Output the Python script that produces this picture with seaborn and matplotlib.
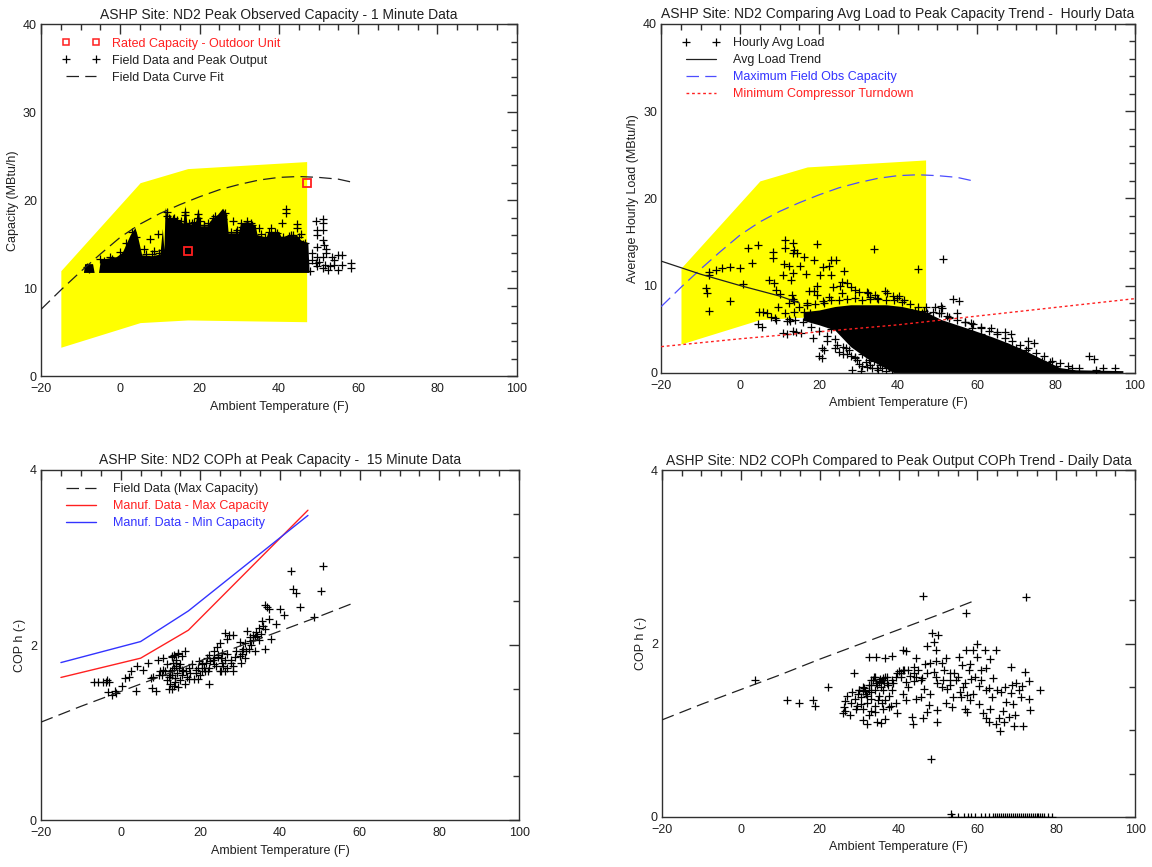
import matplotlib
matplotlib.use("Agg")
import matplotlib.pyplot as plt
from matplotlib.lines import Line2D
from matplotlib.ticker import MultipleLocator
import seaborn as sns

# ---- shared curves ----
# manufacturer capacity envelope (yellow band)
band_x = [-15, 5, 17, 47]
band_top = [12.0, 22.0, 23.6, 24.4]
band_bot = [3.3, 6.1, 6.4, 6.2]

# field data capacity curve fit
fit_x = [-20, -15, -10, -5, 0, 5, 10, 15, 20, 25, 30, 35, 40, 45, 50, 55, 59]
fit_y = [7.6, 9.8, 11.9, 13.9, 15.8, 17.3, 18.5, 19.5, 20.4, 21.2, 21.8, 22.3, 22.6, 22.7, 22.6, 22.4, 22.0]

# ---- panel 1: peak observed capacity ----
rated_x = [17, 47]
rated_y = [14.2, 22.0]

# dense 1-minute cloud, read as its outline
p1_mass_x = [-9.3, -9.0, -7.0, -6.6, -5.5, -5.0, -1.0, 0.5, 1.5, 2.5, 3.7, 4.5, 5.4, 8.0, 10.0, 10.6,
             11.0, 11.3, 11.8, 13.0, 15.0, 15.8, 16.3, 16.8, 18.0, 19.0, 19.6, 20.2, 22.0, 23.0, 24.5,
             25.8, 26.8, 27.2, 29.8, 30.3, 32.0, 34.0, 34.5, 36.8, 37.2, 40.0, 40.5, 44.5, 45.5, 47.3, 47.6]
p1_mass_top = [11.8, 12.8, 12.8, 11.8, 11.8, 13.3, 13.6, 14.1, 15.1, 16.1, 16.9, 15.6, 13.8, 13.7, 13.9,
               16.8, 14.4, 19.2, 18.0, 17.9, 17.7, 17.4, 19.4, 17.4, 17.3, 17.6, 19.1, 17.1, 17.1, 17.9,
               18.4, 19.1, 18.4, 16.3, 16.3, 17.4, 17.6, 17.2, 16.1, 15.8, 16.4, 16.4, 15.9, 16.0, 15.5,
               15.2, 11.8]
p1_mass_bottom = 11.8

p1_pts_x = [11.7, 11.7, 16.3, 16.3, 19.6, 19.6, 25.9, 25.9, 41.8, 41.8, 40.9, 44.6, 44.6, 9.5, 7.5,
            2.9, 36.5, 33.3, 30.8, 22.5, 14.0, 6.0, 4.0, -8.5, -8.0, -4.0, -2.0, 38.5, 43.5, 46.0,
            49.3, 49.5, 51.1, 51.1, 51.1, 51.1, 51.3, 49.5, 49.7, 52.0, 52.0, 48.3, 49.5, 51.1, 53.4,
            54.8, 55.8, 54.0, 53.9, 53.0, 51.6, 51.1, 49.7, 47.9, 55.8, 58.1, 58.1, 54.8, 52.5, 49.3,
            47.4, 48.3, 50.2, 20.0, 21.2, 28.5, 29.5, 35.0, 38.0, 39.5, 42.5, 45.5, 13.5, 10.5, 8.5,
            12.5, 18.0, 23.5, 31.5,
            12.2, 13.2, 14.2, 15.2, 17.4, 18.5, 21.0, 22.0, 24.0, 26.5, 28.0, 29.2, 30.5, 32.0, 33.0,
            35.5, 37.5, 39.0, 41.0, 43.0, 45.0, 46.5, 1.5, 0.0, -2.5, 6.5, 8.0, 9.8, -5.0]
p1_pts_y = [18.7, 18.2, 18.7, 18.3, 18.4, 18.0, 18.3, 17.9, 19.0, 18.6, 17.4, 17.3, 16.8, 16.2, 15.6,
            16.4, 15.8, 17.2, 17.0, 17.2, 16.5, 14.5, 15.8, 12.4, 12.2, 13.1, 13.3, 15.2, 16.1, 15.0,
            17.6, 16.6, 17.9, 17.4, 16.6, 15.5, 14.9, 16.1, 14.7, 14.5, 14.0, 14.0, 13.6, 13.6, 13.6,
            13.8, 13.8, 13.2, 12.7, 12.5, 12.7, 12.3, 12.5, 12.0, 12.7, 12.9, 12.3, 12.1, 12.1, 12.9,
            12.9, 13.2, 13.0, 17.6, 17.2, 17.6, 16.6, 16.8, 16.9, 16.3, 15.9, 16.2, 18.0, 14.3, 14.2,
            17.9, 17.4, 18.0, 16.5,
            18.0, 17.9, 17.8, 17.6, 17.4, 17.5, 17.2, 17.4, 18.2, 18.5, 16.4, 16.4, 17.4, 17.6, 17.4,
            16.2, 16.4, 16.4, 15.8, 16.0, 15.8, 15.2, 15.2, 14.1, 13.6, 13.9, 13.9, 14.0, 13.3]

# ---- panel 2: hourly average load ----
trend_x = [-20, -10, 0, 10, 15]
trend_y = [12.8, 11.3, 10.0, 8.8, 8.0]

turndown_x = [-20, 0, 20, 40, 60, 80, 100]
turndown_y = [3.0, 3.9, 4.7, 5.5, 6.5, 7.5, 8.5]

# dense hourly cloud, read as its outline
p2_mass_x = [16, 20, 24, 28, 32, 37, 41, 47, 51, 55, 59, 64, 68, 72, 76, 81, 85, 97]
p2_mass_top = [7.0, 7.2, 7.6, 7.8, 7.8, 7.8, 7.6, 7.0, 6.1, 5.5, 4.9, 4.1, 3.4, 2.6, 1.7, 0.6, 0.35, 0.25]
p2_mass_bot = [6.0, 5.5, 4.9, 3.0, 1.7, 0.5, -0.5, -0.5, -0.5, -0.5, -0.5, -0.5, -0.5, -0.5, -0.5,
               -0.5, -0.5, -0.5]

p2_pts_x = [11.4, 11.4, 13.3, 13.7, 13.3, 14.4, 19.6, 33.9, 45.1, 51.4, 1.9, 4.4, 3.0, 0.0, -2.7, -4.6,
            -6.0, -7.8, -7.8, -8.6, -8.3, -7.9, -2.5, 0.7, 4.7, 4.4, 7.2, 8.2, 8.2, 9.1, 7.7, 10.9,
            11.2, 12.3, 12.8, 13.3, 15.1, 16.1, 16.8, 18.8, 17.5, 18.8, 20.2, 20.9, 22.5, 23.0, 24.4,
            23.0, 26.3, 25.8, 23.5, 28.1, 25.8, 30.0, 32.3, 36.7, 38.8, 40.2, 32.8, 34.8, 13.3, 12.3,
            9.6, 11.4, 12.3, 13.3, 10.9, 14.2, 9.1, 5.8, 20.7, 20.0, 24.0, 26.7, 28.1, 29.1, 30.9,
            31.9, 34.6, 28.3, 63.5, 67.2, 73.0, 88.4, 54.0, 49.5, 50.9, 46.7, 44.4,
            8.5, 10.2, 13.2, 13.6, 6.8, 5.6, 8.9, 11.9, 15.3, 11.9, 21.2, 20.8, 25.0, 27.5, 29.7,
            32.6, 36.0, 32.2, 55.5, 51.2, 55.0, 52.5, 50.4, 58.8, 61.0, 65.2, 68.6, 74.4, 72.4, 76.6,
            89.7, 90.2, 67.7, 61.0, 58.4, 25.4, 27.1, 29.2, 32.2, 34.3, 37.3, 39.8, 41.5, 43.6, 46.2,
            47.4, 19.5, 21.2, 17.0, 19.5, 22.5, 16.1, 17.8, 13.6, 12.7, 18.5, 22.0, 24.5, 26.0, 35.5,
            38.5, 30.5, 33.5, 62.5, 70.0, 78.5, 80.0, 84.0, 57.0, 53.0,
            15.0, 17.0, 19.0, 21.0, 23.0, 25.0, 27.0, 29.0, 31.0, 33.0, 35.0, 37.0, 39.0, 41.0, 43.0,
            45.0, 47.0, 49.0, 51.0, 53.0, 55.0, 57.0, 59.0, 61.0, 63.0, 65.0, 67.0, 69.0, 71.0, 73.0,
            75.0, 77.0, 79.0, 81.0, 83.0, 86.0, 92.0, 95.0,
            18.0, 20.0, 22.0, 24.0, 26.0, 27.0, 29.0, 30.0, 31.0, 33.0, 34.0, 35.0, 37.0, 38.0, 16.0,
            14.0, 23.0]
p2_pts_y = [15.2, 14.3, 14.9, 14.1, 13.7, 13.7, 14.8, 14.2, 11.9, 13.1, 14.3, 14.7, 12.6, 12.0, 12.1,
            12.0, 11.8, 11.6, 11.2, 9.7, 9.1, 7.1, 8.2, 10.2, 7.0, 5.6, 10.6, 13.9, 13.2, 9.5, 6.4,
            11.2, 12.5, 12.2, 10.6, 11.4, 12.2, 13.3, 11.3, 12.9, 9.4, 9.4, 11.2, 12.1, 12.2, 12.9,
            12.9, 11.2, 11.7, 10.4, 9.8, 9.8, 9.1, 9.3, 9.1, 9.4, 8.8, 8.8, 8.5, 8.6, 8.5, 8.0, 7.5,
            6.9, 6.2, 4.8, 4.6, 4.7, 6.1, 7.0, 2.9, 1.9, 2.8, 2.8, 1.9, 1.7, 0.8, 1.2, 0.6, 0.3, 5.1,
            4.7, 3.7, 1.9, 8.5, 7.6, 7.7, 7.1, 7.1,
            10.3, 9.0, 8.9, 8.2, 6.8, 5.3, 6.3, 5.9, 4.6, 4.4, 2.6, 1.7, 2.4, 2.6, 1.5,
            1.5, 0.5, 0.7, 8.2, 7.4, 6.8, 6.5, 6.8, 5.1, 4.4, 4.7, 4.4, 3.4, 2.6, 1.3,
            1.6, 0.3, 3.0, 5.3, 5.7, 9.9, 10.3, 9.5, 9.3, 8.9, 9.1, 8.6, 8.4, 6.8, 6.8,
            6.8, 8.9, 8.0, 8.0, 9.9, 8.7, 7.0, 6.8, 7.0, 5.9, 4.0, 3.6, 3.2, 2.2, 0.9,
            0.3, 0.2, 0.6, 3.8, 2.9, 1.2, 0.8, 0.6, 5.8, 6.4,
            7.6, 7.8, 7.9, 8.2, 8.3, 8.4, 8.5, 8.6, 8.4, 8.7, 8.5, 8.3, 8.4, 8.1, 7.9,
            7.6, 7.6, 7.0, 6.8, 6.3, 6.1, 5.8, 5.6, 5.1, 4.8, 4.5, 4.0, 3.7, 3.2, 2.9,
            2.3, 1.9, 1.4, 1.1, 0.8, 0.6, 0.5, 0.5,
            5.2, 4.8, 4.2, 3.9, 3.0, 2.2, 1.8, 1.0, 2.2, 0.9, 1.4, 0.3, 0.2, 0.8, 5.8,
            6.0, 5.0]

# ---- panel 3: COPh at peak capacity ----
cop_fit_x = [-20, -10, 0, 10, 20, 30, 40, 50, 59]
cop_fit_y = [1.12, 1.30, 1.47, 1.64, 1.82, 1.99, 2.16, 2.33, 2.49]

manuf_x = [-15, 5, 17, 47]
manuf_max = [1.63, 1.85, 2.17, 3.54]
manuf_min = [1.80, 2.04, 2.39, 3.48]

p3_x = [42.7, 50.9, 43.2, 44.1, 50.3, 45.0, 48.6, 36.3, 37.2, 40.0, 40.9, 39.0, 37.2, 37.7, 36.3, 35.4,
        34.7, 34.0, 33.6, 33.1, 32.7, 31.7, 32.2, 30.8, 30.4, 29.9, 31.1, 30.2, 28.1, 26.3, 26.7, 24.9,
        23.5, 22.1, 23.1, 24.4, 25.3, 26.3, 27.6, 28.1, 26.7, 25.8, 24.9, 23.5, 22.1, 21.2, 21.7, 19.7,
        19.4, 19.0, 19.4, 20.8, 22.1, 18.0, 17.1, 16.7, 15.7, 15.3, 14.4, 13.5, 13.9, 13.3, 12.5, 12.1,
        12.5, 13.5, 14.4, 13.0, 12.1, 11.2, 10.3, 9.8, 10.7, 9.3, 8.9, 7.8, 8.0, 6.9, 4.1, 3.9, 2.0,
        1.1, 2.5, 0.4, -1.2, -2.1, -3.2, -3.7, -3.0, -4.5, -5.7, -6.8, 14.8, 15.3, 16.2, 17.1, 16.2,
        15.0, 18.5, 20.3, 23.3, 24.2, 25.5, 27.2, 29.0, 29.9, 31.4, 33.6, 34.8, 35.2, 36.1, 32.4, 21.9,
        20.3, 26.3, 28.1, 25.3, 13.0, 14.0, 12.8, 13.6,
        12.8, 13.2, 13.8, 14.2, 12.3, 11.7, 13.6, 14.6, 15.5, 16.5, 17.5, 18.8, 19.8, 20.5, 21.5, 22.5,
        23.8, 24.5, 25.5, 26.8, 27.8, 28.8, 30.5, 31.2, 32.5, 33.2, 34.2, 35.8, 36.8, 5.5, 7.5, 9.5,
        10.5, 11.5, 13.0, 14.5, -1.5, -3.5]
p3_y = [2.84, 2.90, 2.64, 2.60, 2.62, 2.44, 2.32, 2.46, 2.41, 2.41, 2.34, 2.24, 2.30, 2.07, 1.96, 2.27,
        2.19, 2.15, 2.09, 2.06, 2.00, 2.16, 1.96, 1.96, 1.93, 1.87, 1.85, 1.79, 2.11, 2.14, 2.07, 2.02,
        1.93, 1.89, 1.83, 1.89, 1.85, 1.83, 1.83, 1.76, 1.74, 1.76, 1.70, 1.78, 1.74, 1.70, 1.85, 1.82,
        1.74, 1.68, 1.61, 1.74, 1.55, 1.78, 1.74, 1.64, 1.70, 1.87, 1.91, 1.89, 1.83, 1.74, 1.70, 1.63,
        1.56, 1.53, 1.52, 1.50, 1.50, 1.70, 1.66, 1.70, 1.85, 1.83, 1.48, 1.51, 1.63, 1.79, 1.76, 1.48,
        1.63, 1.62, 1.70, 1.53, 1.45, 1.43, 1.46, 1.58, 1.58, 1.58, 1.58, 1.58, 1.78, 1.72, 1.93, 1.61,
        1.55, 1.60, 1.61, 1.79, 1.85, 1.98, 1.91, 2.11, 1.93, 2.03, 1.93, 1.93, 2.06, 2.13, 2.18, 2.09,
        1.70, 1.70, 1.70, 1.70, 1.70, 1.88, 1.80, 1.66, 1.58,
        1.72, 1.80, 1.76, 1.68, 1.66, 1.60, 1.62, 1.74, 1.66, 1.70, 1.68, 1.72, 1.66, 1.78, 1.80, 1.82,
        1.76, 1.86, 1.80, 1.90, 1.80, 1.86, 1.90, 2.02, 2.05, 2.12, 2.10, 2.22, 2.44, 1.72, 1.62, 1.66,
        1.72, 1.78, 1.86, 1.90, 1.48, 1.60]

# ---- panel 4: daily COPh ----
p4_x = [3.6, 11.7, 14.8, 18.3, 18.7, 22.2, 46.2, 72.4, 57.0, 48.2, 53.2, 28.6, 32.4, 34.4, 36.5, 38.4,
        41.1, 41.9, 44.4, 47.2, 48.6, 50.1, 49.0, 49.5, 52.1, 55.3, 57.1, 58.8, 59.9, 60.0, 62.0, 64.6,
        63.3, 68.6, 72.0, 75.8, 73.0, 73.0, 73.4, 71.2, 71.6, 69.2, 69.5, 67.9, 66.7, 65.7, 64.6, 65.5,
        62.2, 63.3, 67.2, 65.0, 63.7, 62.1, 60.5, 58.8, 57.4, 56.8, 57.4, 56.3, 56.8, 57.9, 56.0, 58.5,
        60.9, 62.2, 68.7, 69.9, 68.4, 53.5, 52.1, 53.7, 55.8, 54.6, 53.0, 53.0, 54.1, 52.3, 51.2, 49.8,
        49.5, 49.0, 48.1, 49.5, 50.9, 47.2, 46.7, 45.6, 44.4, 43.9, 42.5, 43.9, 42.5, 40.7, 39.4, 38.3,
        38.3, 37.2, 36.3, 35.3, 34.4, 33.7, 33.1, 32.6, 31.8, 31.3, 30.5, 29.8, 29.0, 28.1, 26.4, 26.2,
        26.0, 27.7, 29.2, 30.9, 32.1, 32.9, 34.1, 35.5, 36.6, 37.6, 35.8, 34.8, 36.5, 39.3, 39.7, 42.0,
        43.5, 43.7, 46.2, 47.2, 47.6, 45.6, 48.1, 49.8, 49.8, 50.9, 33.0, 34.0, 35.0, 36.0, 32.0, 31.0,
        30.0, 37.0, 40.0, 41.5,
        31.0, 31.5, 32.5, 33.0, 33.5, 34.0, 34.5, 35.0, 35.5, 36.0, 36.5, 37.0, 30.5, 31.0, 32.0, 33.0,
        34.0, 35.0, 36.0, 37.5, 38.5, 39.5, 40.5, 41.0, 42.0, 43.0, 44.0, 45.0, 46.0, 27.0, 28.0, 29.5,
        30.0, 26.5, 32.5, 34.5, 36.0, 38.0, 41.0, 44.5, 46.5, 51.5, 53.0, 55.0, 58.0, 59.5, 61.0, 63.0,
        64.0, 66.0, 67.0, 70.5, 71.0, 69.0, 66.5, 60.5, 58.0, 55.5, 61.5, 63.0]
p4_y = [1.58, 1.35, 1.32, 1.35, 1.28, 1.50, 2.55, 2.54, 2.35, 0.67, 0.04, 1.66, 1.85, 1.84, 1.83, 1.86,
        1.93, 1.91, 1.83, 1.97, 2.12, 2.10, 2.02, 1.93, 1.83, 1.85, 1.93, 1.93, 2.00, 1.85, 1.93, 1.93,
        1.82, 1.73, 1.67, 1.47, 1.57, 1.36, 1.23, 1.51, 1.05, 1.05, 1.18, 1.15, 1.09, 0.99, 1.07, 1.14,
        1.14, 1.25, 1.33, 1.46, 1.38, 1.47, 1.51, 1.42, 1.21, 1.25, 1.41, 1.50, 1.55, 1.69, 1.75, 1.59,
        1.70, 1.72, 1.52, 1.54, 1.43, 1.27, 1.31, 1.38, 1.38, 1.58, 1.58, 1.66, 1.66, 1.48, 1.58, 1.55,
        1.62, 1.67, 1.78, 1.80, 1.78, 1.66, 1.76, 1.58, 1.62, 1.57, 1.50, 1.73, 1.70, 1.66, 1.61, 1.58,
        1.47, 1.52, 1.55, 1.59, 1.55, 1.61, 1.52, 1.47, 1.42, 1.49, 1.38, 1.42, 1.36, 1.44, 1.34, 1.27,
        1.20, 1.18, 1.25, 1.12, 1.07, 1.22, 1.21, 1.08, 1.13, 1.27, 1.31, 1.35, 1.35, 1.31, 1.20, 1.35,
        1.15, 1.07, 1.14, 1.21, 1.29, 1.38, 1.42, 1.23, 1.10, 1.50, 1.58, 1.62, 1.57, 1.60, 1.40, 1.45,
        1.47, 1.62, 1.68, 1.70,
        1.50, 1.45, 1.52, 1.44, 1.58, 1.47, 1.52, 1.56, 1.50, 1.58, 1.62, 1.55, 1.30, 1.24, 1.32, 1.36,
        1.28, 1.40, 1.46, 1.40, 1.54, 1.66, 1.62, 1.70, 1.56, 1.63, 1.66, 1.70, 1.60, 1.40, 1.32, 1.28,
        1.47, 1.22, 1.18, 1.10, 1.24, 1.28, 1.42, 1.36, 1.48, 1.70, 1.52, 1.62, 1.76, 1.62, 1.58, 1.49,
        1.60, 1.44, 1.50, 1.46, 1.38, 1.30, 1.22, 1.30, 1.35, 1.44, 1.20, 1.10]
# days with zero output along the axis
p4_zero_x = [53.5, 55.0, 56.5, 57.5, 58.5, 59.5, 61.0, 62.0, 63.0, 64.0, 64.5, 65.0, 65.5, 66.0, 66.5,
             67.0, 67.5, 68.0, 68.5, 69.0, 69.5, 70.0, 70.5, 71.0, 71.5, 72.0, 72.5, 73.0, 73.5, 74.0,
             74.5, 75.0, 75.5, 76.0, 76.5, 77.0, 78.0, 79.0]

YELLOW = "#ffff00"
RED = "#ff2020"
BLUE = "#3333ff"
TXT = "#202020"

sns.set_theme(style="white")
plt.rcParams["font.family"] = ["Liberation Sans", "DejaVu Sans"]
plt.rcParams["axes.edgecolor"] = "#303030"
plt.rcParams["axes.linewidth"] = 1.0

fig = plt.figure(figsize=(11.52, 8.67), dpi=100)
ax1 = fig.add_axes([0.0356, 0.566, 0.413, 0.406])
ax2 = fig.add_axes([0.574, 0.570, 0.411, 0.4025])
ax3 = fig.add_axes([0.0356, 0.054, 0.415, 0.404])
ax4 = fig.add_axes([0.5747, 0.0577, 0.4106, 0.400])

PLUS = dict(marker="+", color="black", s=34, linewidth=0.9, legend=False)


def style(ax, title, ylabel, ymax, ymajor, yminor):
    ax.set_xlim(-20, 100)
    ax.set_ylim(0, ymax)
    ax.xaxis.set_major_locator(MultipleLocator(20))
    ax.xaxis.set_minor_locator(MultipleLocator(5))
    ax.yaxis.set_major_locator(MultipleLocator(ymajor))
    ax.yaxis.set_minor_locator(MultipleLocator(yminor))
    ax.tick_params(which="both", direction="in", top=True, right=True, colors="#303030",
                   labelcolor=TXT, labelsize=9)
    ax.tick_params(which="major", length=7, width=1, pad=3)
    ax.tick_params(which="minor", length=4, width=1)
    ax.tick_params(axis="x", which="major", pad=5)
    ax.set_title(title, fontsize=10, color=TXT, pad=4)
    ax.set_xlabel("Ambient Temperature (F)", fontsize=9, color=TXT, labelpad=4)
    ax.set_ylabel(ylabel, fontsize=9, color=TXT, labelpad=3)
    ax.grid(False)


def legend(ax, handles, labels, colors):
    ax.legend(handles, labels, labelcolor=colors, loc="upper left", bbox_to_anchor=(0.045, 0.962),
              frameon=False, numpoints=2, handlelength=3.0, handletextpad=1.0, labelspacing=0.4,
              borderpad=0, borderaxespad=0, fontsize=9)


def dashed(ax, x, y, color, lw, pattern):
    sns.lineplot(x=x, y=y, ax=ax, color=color, linewidth=lw, zorder=4, estimator=None)
    ax.lines[-1].set_dashes(pattern)


# panel 1
ax1.fill_between(band_x, band_bot, band_top, color=YELLOW, linewidth=0, zorder=1)
ax1.fill_between(p1_mass_x, p1_mass_bottom, p1_mass_top, color="black", linewidth=0, zorder=2)
sns.scatterplot(x=p1_pts_x, y=p1_pts_y, ax=ax1, zorder=3, **PLUS)
dashed(ax1, fit_x, fit_y, "#202020", 0.9, (10, 5))
ax1.plot(rated_x, rated_y, ls="none", marker="s", mfc="none", mec=RED, mew=1.3, ms=6, zorder=5)
style(ax1, "ASHP Site: ND2 Peak Observed Capacity - 1 Minute Data", "Capacity (MBtu/h)", 40, 10, 2)
legend(ax1,
       [Line2D([], [], ls="none", marker="s", mfc="none", mec=RED, ms=5, mew=1.1),
        Line2D([], [], ls="none", marker="+", color="black", ms=6, mew=0.9),
        Line2D([], [], color="#202020", lw=0.9, dashes=(10, 5))],
       ["Rated Capacity - Outdoor Unit", "Field Data and Peak Output", "Field Data Curve Fit"],
       [RED, TXT, TXT])

# panel 2
ax2.fill_between(band_x, band_bot, band_top, color=YELLOW, linewidth=0, zorder=1)
ax2.fill_between(p2_mass_x, p2_mass_bot, p2_mass_top, color="black", linewidth=0, zorder=2)
sns.scatterplot(x=p2_pts_x, y=p2_pts_y, ax=ax2, zorder=3, **PLUS)
dashed(ax2, fit_x, fit_y, "#4d4dff", 0.9, (10, 5))
sns.lineplot(x=trend_x, y=trend_y, ax=ax2, color="#202020", linewidth=0.9, zorder=4, estimator=None)
dashed(ax2, turndown_x, turndown_y, RED, 1.0, (2, 2))
style(ax2, "ASHP Site: ND2 Comparing Avg Load to Peak Capacity Trend -  Hourly Data",
      "Average Hourly Load (MBtu/h)", 40, 10, 2)
legend(ax2,
       [Line2D([], [], ls="none", marker="+", color="black", ms=6, mew=0.9),
        Line2D([], [], color="#202020", lw=0.9),
        Line2D([], [], color="#4d4dff", lw=0.9, dashes=(10, 5)),
        Line2D([], [], color=RED, lw=1.0, dashes=(2, 2))],
       ["Hourly Avg Load", "Avg Load Trend", "Maximum Field Obs Capacity", "Minimum Compressor Turndown"],
       [TXT, TXT, BLUE, RED])

# panel 3
sns.scatterplot(x=p3_x, y=p3_y, ax=ax3, zorder=3, **PLUS)
dashed(ax3, cop_fit_x, cop_fit_y, "#202020", 0.9, (10, 5))
sns.lineplot(x=manuf_x, y=manuf_max, ax=ax3, color=RED, linewidth=1.0, zorder=4, estimator=None)
sns.lineplot(x=manuf_x, y=manuf_min, ax=ax3, color=BLUE, linewidth=1.0, zorder=4, estimator=None)
style(ax3, "ASHP Site: ND2 COPh at Peak Capacity -  15 Minute Data", "COP h (-)", 4, 2, 0.5)
legend(ax3,
       [Line2D([], [], color="#202020", lw=0.9, dashes=(10, 5)),
        Line2D([], [], color=RED, lw=1.0),
        Line2D([], [], color=BLUE, lw=1.0)],
       ["Field Data (Max Capacity)", "Manuf. Data - Max Capacity", "Manuf. Data - Min Capacity"],
       [TXT, RED, BLUE])

# panel 4
sns.scatterplot(x=p4_x, y=p4_y, ax=ax4, zorder=3, **PLUS)
sns.scatterplot(x=p4_zero_x, y=[0.0] * len(p4_zero_x), ax=ax4, zorder=3, **PLUS)
dashed(ax4, cop_fit_x, cop_fit_y, "#202020", 0.9, (10, 5))
style(ax4, "ASHP Site: ND2 COPh Compared to Peak Output COPh Trend - Daily Data", "COP h (-)", 4, 2, 0.5)

fig.savefig("out.png", dpi=100)
